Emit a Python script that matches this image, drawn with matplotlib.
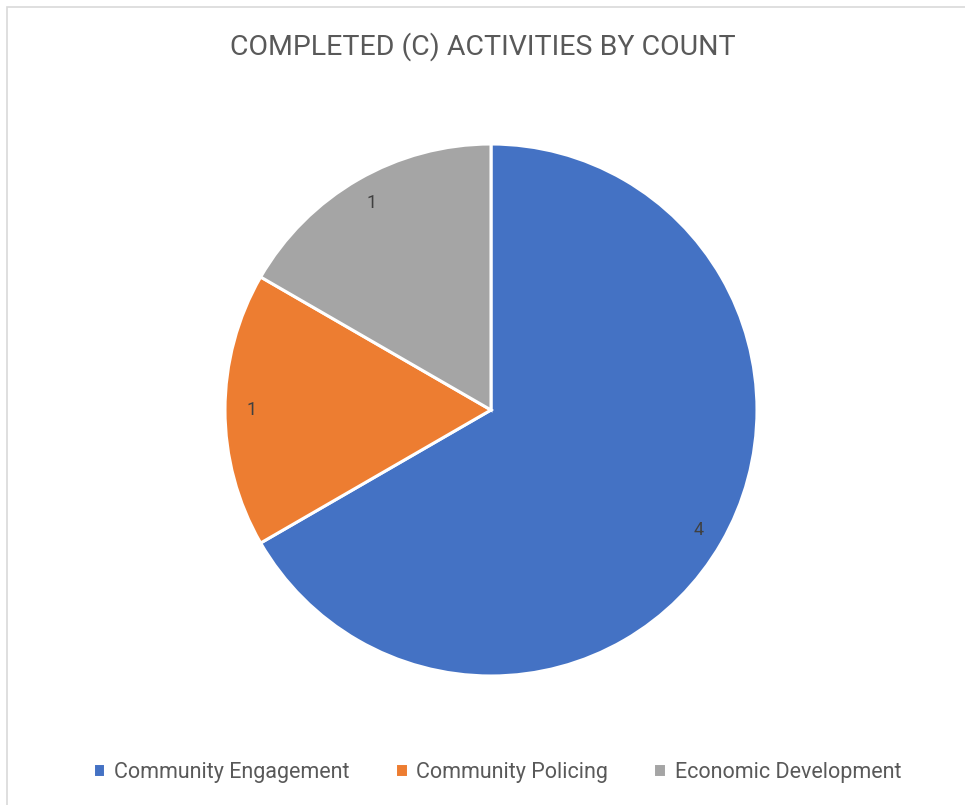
import matplotlib.pyplot as plt
from matplotlib.patches import Rectangle

categories = ["Community Engagement", "Community Policing", "Economic Development"]
counts = [4, 1, 1]
colors = ["#4472C4", "#ED7D31", "#A5A5A5"]
title = "COMPLETED (C) ACTIVITIES BY COUNT"

plt.rcParams['font.family'] = ['Roboto', 'DejaVu Sans']

fig = plt.figure(figsize=(9.65, 8.05), dpi=100)

# chart frame (only left and top edges are visible in the picture)
fig.patches.append(Rectangle((7 / 965, -0.1), 1.2, (805 - 7) / 805 + 0.1,
                             transform=fig.transFigure, fill=False,
                             edgecolor="#D9D9D9", linewidth=1.2))

# pie centre ~ (491, 410) px, radius ~ 266 px
r = 266
cx, cy = 491, 410
ax = fig.add_axes([(cx - r) / 965, (805 - cy - r) / 805, 2 * r / 965, 2 * r / 805])

total = sum(counts)
wedges, texts, autotexts = ax.pie(
    counts, colors=colors, startangle=90, counterclock=False,
    autopct=lambda p: f"{p * total / 100:.0f}", pctdistance=0.9,
    wedgeprops=dict(edgecolor="white", linewidth=2.2),
    textprops=dict(color="#404040", fontsize=13))
ax.set_xlim(-1, 1)
ax.set_ylim(-1, 1)
ax.set_aspect("equal")

fig.text(0.5, 1 - 47 / 805, title, ha="center", va="center",
         fontsize=20.5, color="#595959")

fig.legend(wedges, categories, loc="center",
           bbox_to_anchor=(497 / 965, 1 - 772 / 805),
           ncol=3, frameon=False, handlelength=0.6, handleheight=0.6,
           handletextpad=0.4, columnspacing=2.1,
           prop=dict(size=15.5), labelcolor="#595959")

fig.savefig("out.png", dpi=100)
